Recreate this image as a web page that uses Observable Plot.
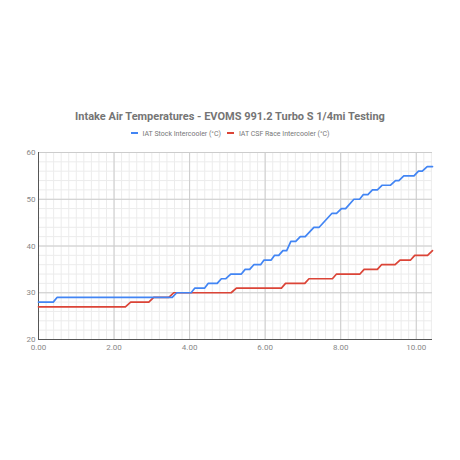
<!DOCTYPE html>
<html>
<head>
<meta charset="utf-8">
<script src="https://cdn.jsdelivr.net/npm/d3@7"></script>
<script src="https://cdn.jsdelivr.net/npm/@observablehq/plot@0.6"></script>
<style>
  html, body { margin: 0; padding: 0; background: #fff; }
  #wrap { position: relative; width: 460px; height: 460px; font-family: Roboto, "Noto Sans", sans-serif; }
  #title { position: absolute; top: 110px; left: 0; width: 460px; text-align: center; font-size: 11px; line-height: 14px; font-weight: bold; color: #757575; }
  #legend { position: absolute; top: 130px; left: 0; width: 460px; text-align: center; font-size: 7px; line-height: 9px; color: #777; }
  #legend span.sw { display: inline-block; width: 7px; height: 2px; vertical-align: middle; margin-right: 5px; position: relative; top: -1px; }
  #legend span.item { margin: 0 3px; }
  #chart { position: absolute; top: 140px; left: 0; }
</style>
</head>
<body>
<div id="wrap">
  <div id="title"></div>
  <div id="legend"></div>
  <div id="chart"></div>
</div>
<script>
const chartTitle = "Intake Air Temperatures - EVOMS 991.2 Turbo S 1/4mi Testing";
const seriesNames = ["IAT Stock Intercooler (°C)", "IAT CSF Race Intercooler (°C)"];
const seriesColors = ["#4285F4", "#DB4437"];

// Stock intercooler: corner points (time, °C)
const stockTime = [0, 0.39, 0.49, 3.54, 3.66, 4.04, 4.14, 4.40, 4.49, 4.73, 4.84, 4.96, 5.09, 5.37, 5.47, 5.59, 5.70, 5.88, 5.97, 6.16, 6.25, 6.36, 6.47, 6.57, 6.68, 6.81, 6.93, 7.06, 7.29, 7.43, 7.77, 7.89, 8.02, 8.13, 8.35, 8.50, 8.60, 8.72, 8.84, 8.97, 9.10, 9.32, 9.45, 9.54, 9.67, 9.94, 10.06, 10.16, 10.29, 10.43];
const stockTemp = [28, 28, 29, 29, 30, 30, 31, 31, 32, 32, 33, 33, 34, 34, 35, 35, 36, 36, 37, 37, 38, 38, 39, 39, 41, 41, 42, 42, 44, 44, 47, 47, 48, 48, 50, 50, 51, 51, 52, 52, 53, 53, 54, 54, 55, 55, 56, 56, 57, 57];

// CSF race intercooler: corner points (time, °C)
const csfTime = [0, 2.30, 2.44, 2.92, 3.05, 3.45, 3.58, 5.10, 5.24, 6.43, 6.54, 7.05, 7.16, 7.78, 7.89, 8.51, 8.62, 8.97, 9.08, 9.44, 9.57, 9.85, 9.96, 10.30, 10.43];
const csfTemp = [27, 27, 28, 28, 29, 29, 30, 30, 31, 31, 32, 32, 33, 33, 34, 34, 35, 35, 36, 36, 37, 37, 38, 38, 39];

const xTicks = [0, 2, 4, 6, 8, 10];
const yTicks = [20, 30, 40, 50, 60];

const stock = stockTime.map((t, i) => ({t, v: stockTemp[i], s: seriesNames[0]}));
const csf = csfTime.map((t, i) => ({t, v: csfTemp[i], s: seriesNames[1]}));

document.getElementById("title").textContent = chartTitle;
document.getElementById("legend").innerHTML = seriesNames.map((n, i) =>
  `<span class="item"><span class="sw" style="background:${seriesColors[i]}"></span>${n}</span>`).join("");

const xMax = 10.43;
const minorX = d3.range(0, xMax, 0.2);
const minorY = d3.range(20, 61, 2);

const plot = Plot.plot({
  width: 460,
  height: 220,
  marginLeft: 38,
  marginRight: 28,
  marginTop: 12,
  marginBottom: 21,
  style: { fontFamily: "Roboto, sans-serif", fontSize: "8px", color: "#888", background: "transparent" },
  x: { domain: [0, xMax], ticks: xTicks, tickFormat: d => d.toFixed(2), tickSize: 0, tickPadding: 5, label: null },
  y: { domain: [20, 60], ticks: yTicks, tickSize: 0, tickPadding: 3, label: null },
  marks: [
    Plot.ruleX(minorX, {stroke: "#ececec", strokeWidth: 1}),
    Plot.ruleY(minorY, {stroke: "#ececec", strokeWidth: 1}),
    Plot.ruleX(xTicks, {stroke: "#cccccc", strokeWidth: 1}),
    Plot.ruleY(yTicks, {stroke: "#cccccc", strokeWidth: 1}),
    Plot.ruleX([0], {stroke: "#555", strokeWidth: 1}),
    Plot.ruleY([20], {stroke: "#555", strokeWidth: 1}),
    Plot.line(csf, {x: "t", y: "v", stroke: seriesColors[1], strokeWidth: 1.7}),
    Plot.line(stock, {x: "t", y: "v", stroke: seriesColors[0], strokeWidth: 1.7}),
    Plot.axisX({ticks: xTicks, tickFormat: d => d.toFixed(2), tickSize: 0, tickPadding: 5, fill: "#888", label: null}),
    Plot.axisY({ticks: yTicks, tickSize: 0, tickPadding: 3, fill: "#888", label: null})
  ]
});
document.getElementById("chart").appendChild(plot);
</script>
</body>
</html>
